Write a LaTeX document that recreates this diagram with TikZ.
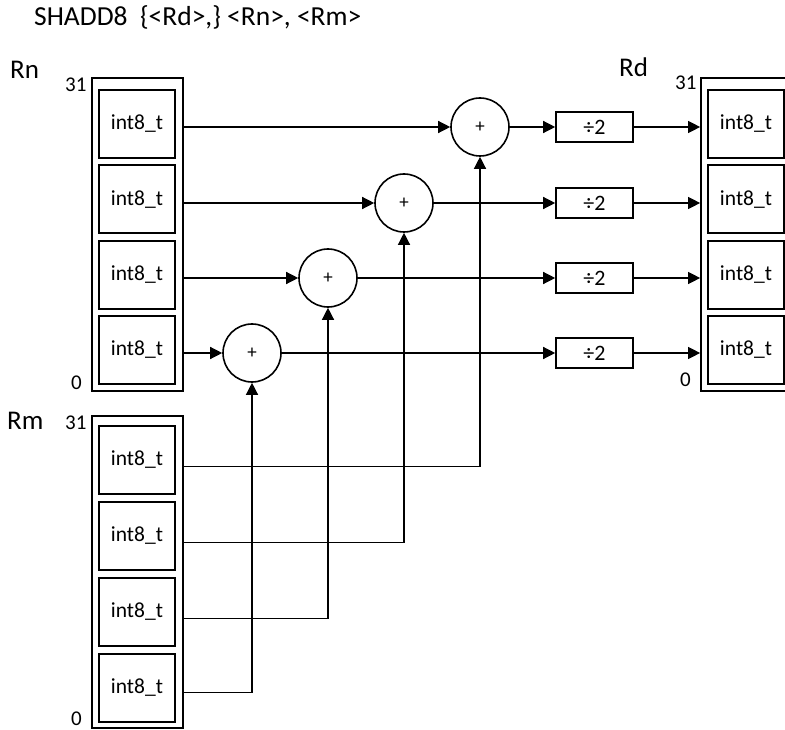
\documentclass[tikz,border=0pt]{standalone}
\usepackage{fontspec}
\setmainfont{Carlito}
\usetikzlibrary{arrows.meta}
\begin{document}
\begin{tikzpicture}[x=1pt,y=-1pt,
  outerbox/.style={draw,line width=1.7pt,minimum width=91pt,minimum height=313pt,inner sep=0pt},
  lane/.style={draw,line width=1.7pt,minimum width=76pt,minimum height=68pt,inner sep=0pt,
    font=\fontsize{21.5}{24}\selectfont},
  adder/.style={draw,circle,line width=1.6pt,minimum size=58pt,inner sep=0pt,
    font=\fontsize{19}{21}\selectfont},
  halve/.style={draw,line width=1.6pt,minimum width=77pt,minimum height=30pt,inner sep=0pt,
    font=\fontsize{22}{25}\selectfont},
  conn/.style={line width=1.3pt,-{Triangle[length=12pt,width=12pt]}},
  biglabel/.style={anchor=base west,inner sep=0pt,font=\fontsize{27}{31}\selectfont},
  bitlabel/.style={anchor=base west,inner sep=0pt,font=\fontsize{21}{24}\selectfont}]
\useasboundingbox (0,0) rectangle (785,730);
\clip (0,0) rectangle (785,730);

% title and labels
\node[biglabel,font=\fontsize{27.5}{31}\selectfont] (title) at (34,26) {SHADD8~~\{<Rd>,\}~<Rn>,~<Rm>};
\node[biglabel] (lRn) at (10,79) {Rn};
\node[biglabel] (lRm) at (7,429) {Rm};
\node[biglabel] (lRd) at (619,77) {Rd};
\node[bitlabel] (nHi) at (65,92) {31};
\node[bitlabel] (nLo) at (71,389) {0};
\node[bitlabel] (mHi) at (65,429) {31};
\node[bitlabel] (mLo) at (71,725) {0};
\node[bitlabel] (dHi) at (675,90) {31};
\node[bitlabel] (dLo) at (680,386) {0};

% registers
\node[outerbox] (Rnout) at (137.5,234.5) {};
\node[outerbox,minimum height=312pt] (Rmout) at (137.5,572) {};
\node[outerbox] (Rdout) at (746.5,234.5) {};

\node[lane] (n1) at (137,124) {int8\_t};
\node[lane] (n2) at (137,199.3) {int8\_t};
\node[lane] (n3) at (137,275) {int8\_t};
\node[lane] (n4) at (137,350) {int8\_t};

\node[lane] (m1) at (137,460) {int8\_t};
\node[lane] (m2) at (137,536) {int8\_t};
\node[lane] (m3) at (137,612) {int8\_t};
\node[lane] (m4) at (137,688) {int8\_t};

\node[lane] (d1) at (746,124) {int8\_t};
\node[lane] (d2) at (746,199.3) {int8\_t};
\node[lane] (d3) at (746,275) {int8\_t};
\node[lane] (d4) at (746,350) {int8\_t};

% adders and halvers
\node[adder] (c1) at (480,127) {+};
\node[adder] (c2) at (404,203) {+};
\node[adder] (c3) at (328,278) {+};
\node[adder] (c4) at (252,353) {+};

\node[halve] (h1) at (594.5,127) {÷2};
\node[halve] (h2) at (594.5,203) {÷2};
\node[halve] (h3) at (594.5,278) {÷2};
\node[halve] (h4) at (594.5,353) {÷2};

% Rn to adders, adders to halvers to Rd
\foreach \i in {1,2,3,4}{
  \draw[conn] (c\i.west -| Rnout.east) -- (c\i.west);
  \draw[conn] (c\i.east) -- (h\i.west);
  \draw[conn] (h\i.east) -- (h\i.east -| Rdout.west);
}

% Rm to adders
\coordinate (s1) at (183,466.5);
\coordinate (s2) at (183,542.5);
\coordinate (s3) at (183,618.5);
\coordinate (s4) at (183,692.5);
\draw[conn] (s1) -| (c1.south);
\draw[conn] (s2) -| (c2.south);
\draw[conn] (s3) -| (c3.south);
\draw[conn] (s4) -| (c4.south);
\end{tikzpicture}
\end{document}
